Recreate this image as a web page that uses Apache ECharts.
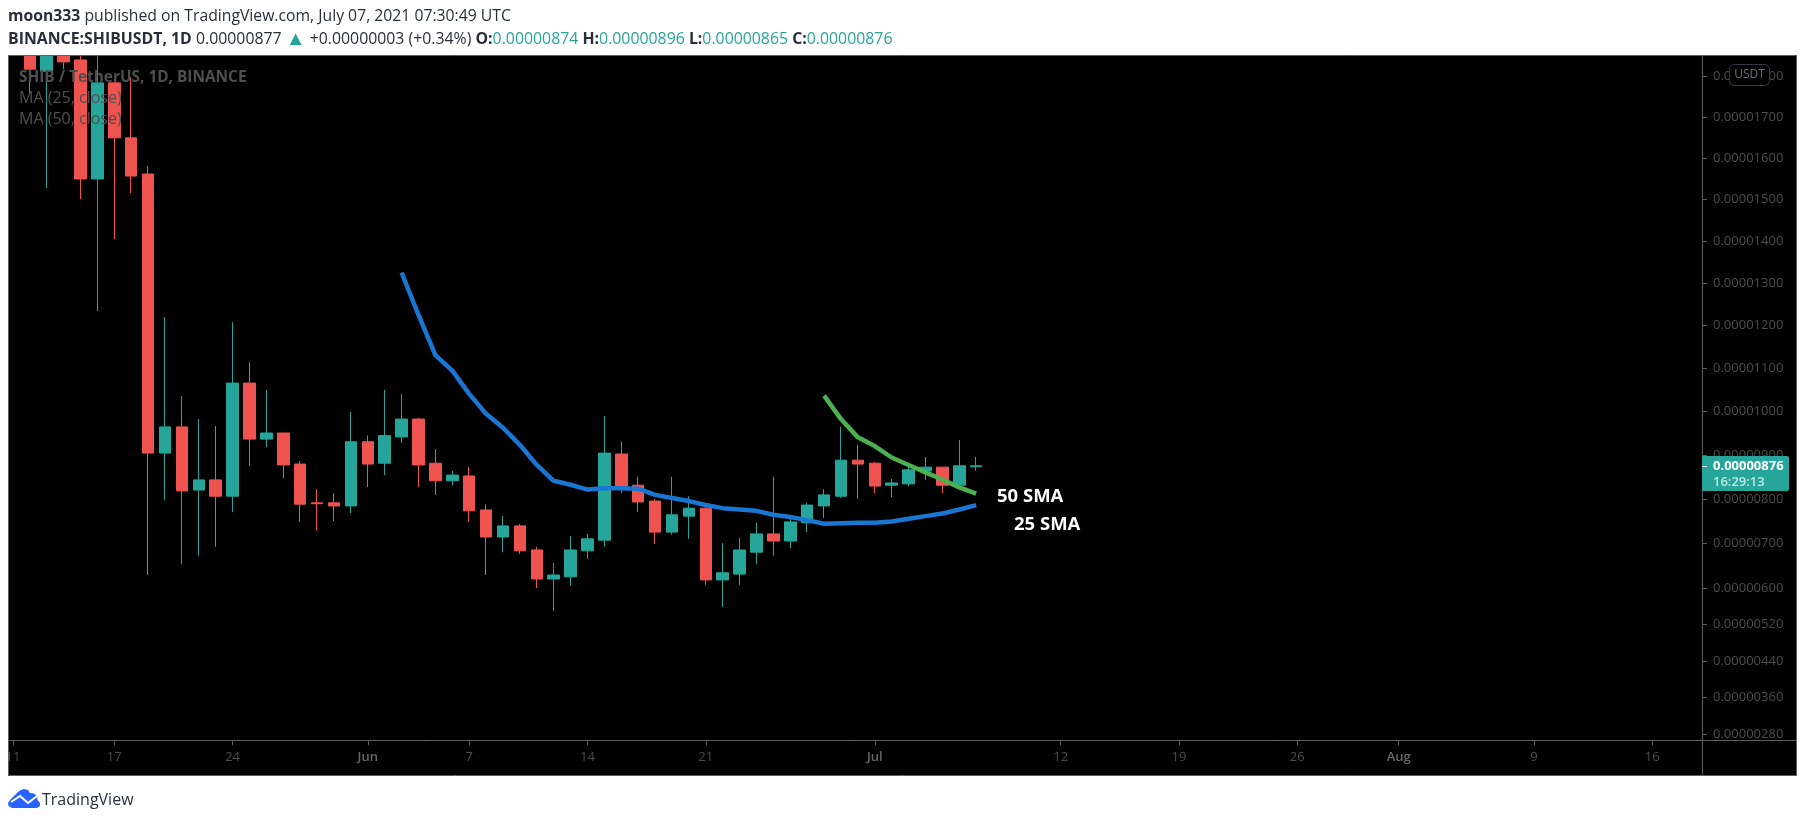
<!DOCTYPE html>
<html>
<head>
<meta charset="utf-8">
<style>html,body{margin:0;padding:0;background:#fff}#c{width:1805px;height:822px}</style>
<script src="https://cdn.jsdelivr.net/npm/echarts@6/dist/echarts.min.js"></script>
</head>
<body>
<div id="c"></div>
<script>
// Prices are in units of 0.00000001 USDT
const dates = ['2021-05-12','2021-05-13','2021-05-14','2021-05-15','2021-05-16','2021-05-17','2021-05-18','2021-05-19','2021-05-20','2021-05-21','2021-05-22','2021-05-23','2021-05-24','2021-05-25','2021-05-26','2021-05-27','2021-05-28','2021-05-29','2021-05-30','2021-05-31','2021-06-01','2021-06-02','2021-06-03','2021-06-04','2021-06-05','2021-06-06','2021-06-07','2021-06-08','2021-06-09','2021-06-10','2021-06-11','2021-06-12','2021-06-13','2021-06-14','2021-06-15','2021-06-16','2021-06-17','2021-06-18','2021-06-19','2021-06-20','2021-06-21','2021-06-22','2021-06-23','2021-06-24','2021-06-25','2021-06-26','2021-06-27','2021-06-28','2021-06-29','2021-06-30','2021-07-01','2021-07-02','2021-07-03','2021-07-04','2021-07-05','2021-07-06','2021-07-07'];
const opens  = [1900,1813,1880,1841,1549,1784,1649,1561,905,965,821,844,807,1066,937,951,880,792,792,785,931,882,942,983,882,842,853,776,715,740,686,621,626,684,708,903,832,796,726,762,780,619,632,681,722,706,747,785,807,889,882,832,835,864,873,832,874];
const closes = [1818,1900,1836,1549,1784,1649,1556,905,965,819,844,807,1066,937,951,878,789,790,785,931,880,945,983,878,842,855,774,715,740,684,621,630,686,711,905,830,794,726,765,780,619,635,686,722,706,749,787,810,889,880,830,837,867,873,832,876,876];
const lows   = [1759,1527,1818,1500,1234,1405,1515,630,798,655,673,693,771,876,919,848,749,729,751,769,828,855,928,828,810,832,749,630,681,677,601,550,606,666,693,814,771,699,720,711,608,559,608,655,673,690,726,758,803,801,814,805,830,844,814,832,865];
const highs  = [1950,1960,1900,1900,1900,1790,1798,1580,1220,1036,983,967,1208,1115,1050,951,887,823,814,999,945,1050,1041,985,914,864,873,789,762,744,693,657,717,722,990,931,851,801,851,807,785,701,713,747,851,756,792,823,965,924,885,846,883,896,873,935,896];

const ma25Dates = ['2021-06-03','2021-06-04','2021-06-05','2021-06-06','2021-06-07','2021-06-08','2021-06-09','2021-06-10','2021-06-11','2021-06-12','2021-06-13','2021-06-14','2021-06-15','2021-06-16','2021-06-17','2021-06-18','2021-06-19','2021-06-20','2021-06-21','2021-06-22','2021-06-23','2021-06-24','2021-06-25','2021-06-26','2021-06-27','2021-06-28','2021-06-29','2021-06-30','2021-07-01','2021-07-02','2021-07-03','2021-07-04','2021-07-05','2021-07-06','2021-07-07'];
const ma25Values = [1325,1225,1131,1095,1041,995,963,924,878,842,833,822,825,825,824,810,803,796,787,780,777,774,765,760,753,745,746,747,747,750,756,762,768,777,787];
const ma50Dates = ['2021-06-28','2021-06-29','2021-06-30','2021-07-01','2021-07-02','2021-07-03','2021-07-04','2021-07-05','2021-07-06','2021-07-07'];
const ma50Values = [1037,983,941,921,895,878,861,845,827,813];

const priceTicks = [1800,1700,1600,1500,1400,1300,1200,1100,1000,900,800,700,600,520,440,360,280];
const dateTicks = ['2021-05-11','2021-05-17','2021-05-24','2021-06-01','2021-06-07','2021-06-14','2021-06-21','2021-07-01','2021-07-12','2021-07-19','2021-07-26','2021-08-01','2021-08-09','2021-08-16'];
const dateTickLabels = ['11','17','24','Jun','7','14','21','Jul','12','19','26','Aug','9','16'];

// x axis counts days from 17 May 2021
const dayOf = d => Math.round((Date.parse(d + 'T00:00:00Z') - Date.parse('2021-05-17T00:00:00Z')) / 86400000);
// The price scale of the source chart is slightly compressive, so the axis runs on this curve.
const scaleOf = p => 47.25 * (p / 100) - 0.1908 * (p / 100) * (p / 100);
const xMin = -6.29;
const xMax = 93.95;

const candleData = dates.map((d, i) => [dayOf(d), scaleOf(opens[i]), scaleOf(closes[i]), scaleOf(lows[i]), scaleOf(highs[i])]);
const lineData = (ds, vs) => ds.map((d, i) => [dayOf(d), scaleOf(vs[i])]);
const tickScale = priceTicks.map(scaleOf);
const tickDays = dateTicks.map(dayOf);

const UI_FONT = '"Open Sans","Noto Sans",sans-serif';
const dark = '#2a2e39', teal = '#26a69a', red = '#ef5350', frame = '#5e5e5e';

const chart = echarts.init(document.getElementById('c'), null, {renderer: 'canvas'});
const row1 = '{b|moon333} {n|published on TradingView.com, July 07, 2021 07:30:49 UTC}';
const row2 = '{b|BINANCE:SHIBUSDT, 1D} {n|0.00000877} {up|▲} {n|+0.00000003 (+0.34%)} {b|O:}{t|0.00000874} {b|H:}{t|0.00000896} {b|L:}{t|0.00000865} {b|C:}{t|0.00000876}';
const richAt = size => ({
  b: {fontFamily: UI_FONT, fontSize: size, fontWeight: 700, fill: dark},
  n: {fontFamily: UI_FONT, fontSize: size, fill: dark},
  t: {fontFamily: UI_FONT, fontSize: size, fill: teal},
  up: {fontFamily: UI_FONT, fontSize: 20, fill: teal}
});
const txt = (x, y, text, extra) => ({type: 'text', z: 200, x, y, silent: true,
  style: Object.assign({text, fontFamily: UI_FONT, fontSize: 16, fill: '#4f4f4f', verticalAlign: 'middle'}, extra)});
const seg = (x1, y1, x2, y2, c, z) => ({type: 'line', z: z || 150, silent: true,
  shape: {x1, y1, x2, y2}, style: {stroke: c || frame, lineWidth: 1}});

chart.setOption({
  animation: false,
  backgroundColor: '#ffffff',
  grid: {left: 8, right: 103, top: 55.5, bottom: 81.7, backgroundColor: '#000', show: true, borderWidth: 0, containLabel: false},
  xAxis: {
    type: 'value', min: xMin, max: xMax, z: 3,
    axisLine: {show: true, onZero: false, lineStyle: {color: frame, width: 1}},
    axisTick: {show: true, length: 5, lineStyle: {color: frame}, customValues: tickDays},
    splitLine: {show: false},
    axisLabel: {
      color: '#4c4c4c', fontFamily: UI_FONT, fontSize: 13, margin: 10, hideOverlap: false,
      customValues: tickDays,
      formatter: v => {
        const l = dateTickLabels[tickDays.indexOf(v)];
        return l === undefined ? '' : (/[A-Za-z]/.test(l) ? '{m|' + l + '}' : l);
      },
      rich: {m: {color: '#666', fontFamily: UI_FONT, fontSize: 13, fontWeight: 600}}
    }
  },
  yAxis: {
    type: 'value', position: 'right', scale: true, min: 124.8, max: 809.6, z: 3,
    splitLine: {show: false},
    axisLine: {show: true, onZero: false, lineStyle: {color: frame, width: 1}},
    axisTick: {show: true, length: 5, lineStyle: {color: frame}, customValues: tickScale},
    axisLabel: {
      color: '#4c4c4c', fontFamily: UI_FONT, fontSize: 13, margin: 11, hideOverlap: false,
      customValues: tickScale,
      formatter: v => {
        let best = 0;
        tickScale.forEach((t, i) => { if (Math.abs(t - v) < Math.abs(tickScale[best] - v)) best = i; });
        return (priceTicks[best] * 1e-8).toFixed(8);
      }
    }
  },
  series: [
    {type: 'candlestick', name: 'SHIBUSDT', barWidth: 12, data: candleData, clip: true,
      itemStyle: {color: teal, color0: red, borderColor: teal, borderColor0: red, borderWidth: 1}},
    {type: 'line', name: 'MA 25', data: lineData(ma25Dates, ma25Values), showSymbol: false, symbol: 'none', z: 5,
      lineStyle: {color: '#1976d2', width: 4.5}},
    {type: 'line', name: 'MA 50', data: lineData(ma50Dates, ma50Values), showSymbol: false, symbol: 'none', z: 5,
      lineStyle: {color: '#4caf50', width: 4.5}}
  ],
  graphic: {elements: [
    // page margin above the chart hides the parts of candles that run off the top
    {type: 'rect', z: 140, silent: true, shape: {x: 0, y: 0, width: 1805, height: 55}, style: {fill: '#fff'}},
    {type: 'text', z: 200, x: 8, y: 17, silent: true, style: {text: row1, rich: richAt(15.75), verticalAlign: 'middle', fontFamily: UI_FONT, fontSize: 15.75}},
    {type: 'text', z: 200, x: 8, y: 39, silent: true, style: {text: row2, rich: richAt(15.85), verticalAlign: 'middle', fontFamily: UI_FONT, fontSize: 15.85}},
    txt(19, 77.5, 'SHIB / TetherUS, 1D, BINANCE', {fontWeight: 700, fontSize: 15.4}),
    txt(19, 98.5, 'MA (25, close)'),
    txt(19, 119, 'MA (50, close)'),
    txt(997, 497, '50 SMA', {fill: '#fff', fontWeight: 700, fontSize: 18.5}),
    txt(1014, 524.5, '25 SMA', {fill: '#fff', fontWeight: 700, fontSize: 18.5}),
    // frame
    {type: 'rect', z: 1, silent: true, shape: {x: 8, y: 55, width: 1789, height: 720}, style: {fill: '#000'}},
    {type: 'rect', z: 140, silent: true, shape: {x: 0, y: 740, width: 8, height: 36}, style: {fill: '#fff'}},
    seg(8, 55.5, 1797, 55.5), seg(8.5, 55, 8.5, 775.5), seg(8, 775.5, 1797, 775.5), seg(1796.5, 55, 1796.5, 775.5),
    seg(1702.5, 740, 1702.5, 775), seg(1702, 740.5, 1797, 740.5),
    // USDT badge
    {type: 'rect', z: 170, silent: true, shape: {x: 1729.5, y: 64.5, width: 40, height: 21, r: 5}, style: {fill: '#000', stroke: '#363a45', lineWidth: 1}},
    txt(1749.5, 75, 'USDT', {fill: '#6f6f6f', fontSize: 12, align: 'center'}),
    // last price tag
    {type: 'rect', z: 180, silent: true, shape: {x: 1702, y: 456, width: 87, height: 35, r: [0, 2, 2, 0]}, style: {fill: teal}},
    seg(1702, 466.5, 1707, 466.5, '#e6f5f3', 190),
    txt(1713, 466, '0.00000876', {fill: '#fff', fontWeight: 700, fontSize: 13}),
    txt(1713, 482, '16:29:13', {fill: '#bfe6e2', fontWeight: 600, fontSize: 13}),
    // TradingView logo
    {type: 'polygon', z: 200, silent: true, shape: {points: [[12, 808], [8.5, 806], [8, 803], [10, 800], [14, 796], [18, 792], [21, 790], [24, 789], [28, 790], [30, 793], [34, 793.5], [37, 796], [37.5, 800], [40, 803], [40, 806], [37, 808]]}, style: {fill: '#2962ff'}},
    {type: 'polyline', z: 201, silent: true, shape: {points: [[11, 802], [20, 796], [28, 803], [37, 796]]}, style: {stroke: '#fff', lineWidth: 2, fill: null}},
    txt(42, 800, 'TradingView', {fill: dark, fontSize: 16})
  ]}
});
</script>
</body>
</html>
